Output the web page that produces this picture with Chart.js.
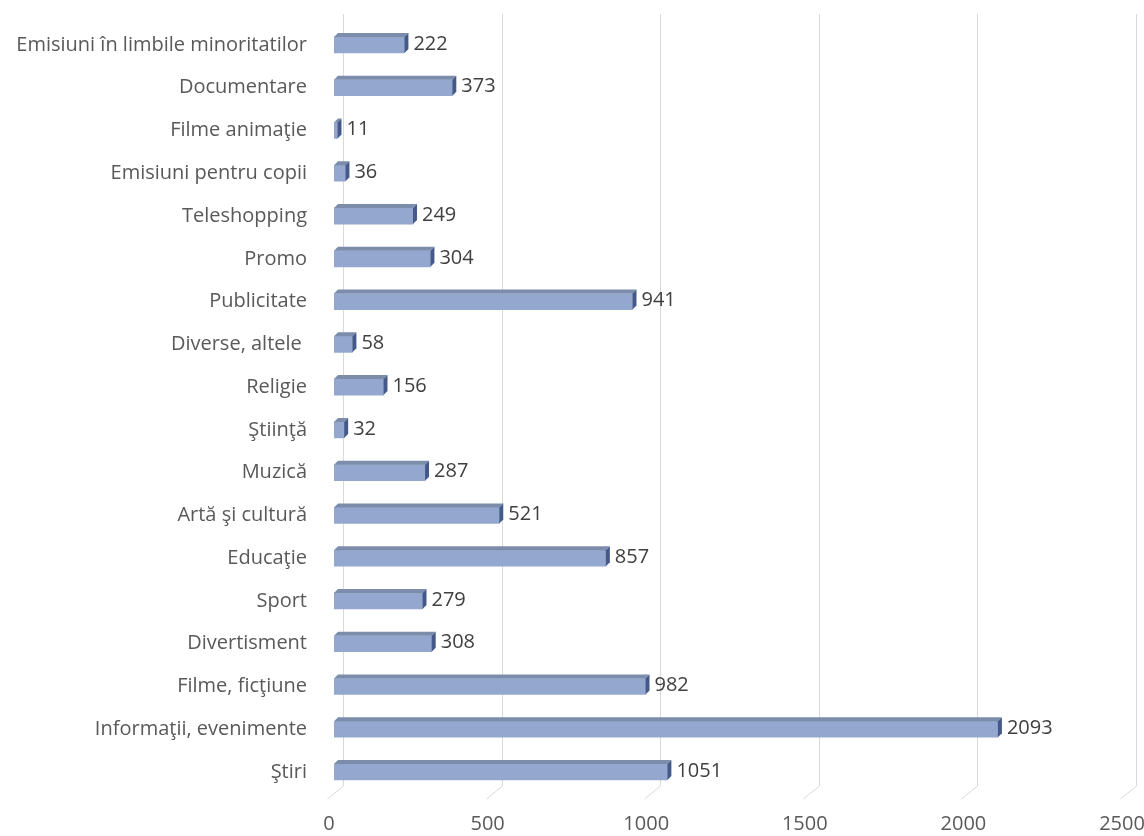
<!DOCTYPE html>
<html>
<head>
<meta charset="utf-8">
<script src="https://cdn.jsdelivr.net/npm/chart.js@4/dist/chart.umd.min.js"></script>
<style>
  html, body { margin: 0; padding: 0; background: #ffffff; }
  #wrap { width: 1144px; height: 836px; position: relative; }
</style>
</head>
<body>
<div id="wrap"><canvas id="c"></canvas></div>
<script>
const categories = [
  "Emisiuni în limbile minoritatilor",
  "Documentare",
  "Filme animaţie",
  "Emisiuni pentru copii",
  "Teleshopping",
  "Promo",
  "Publicitate",
  "Diverse, altele ",
  "Religie",
  "Ştiinţă",
  "Muzică",
  "Artă şi cultură",
  "Educaţie",
  "Sport",
  "Divertisment",
  "Filme, ficţiune",
  "Informaţii, evenimente",
  "Ştiri"
];
const values = [222, 373, 11, 36, 249, 304, 941, 58, 156, 32, 287, 521, 857, 279, 308, 982, 2093, 1051];
const xTicks = [0, 500, 1000, 1500, 2000, 2500];

const FONT = "'Open Sans', 'Noto Sans', sans-serif";
const TEXT = "#595959";
const DEPTH = 4;

const gridPlugin = {
  id: 'grid3d',
  beforeDatasetsDraw(chart) {
    const ctx = chart.ctx;
    const xs = chart.scales.x;
    ctx.save();
    ctx.strokeStyle = '#d9d9d9';
    ctx.lineWidth = 1;
    xTicks.forEach(t => {
      const px = Math.round(xs.getPixelForValue(t)) + 0.5;
      ctx.beginPath();
      ctx.moveTo(px + 9, 14);
      ctx.lineTo(px + 9, 786);
      ctx.lineTo(px - 7, 799);
      ctx.stroke();
    });
    ctx.restore();
  }
};

const bar3dPlugin = {
  id: 'bar3d',
  afterDatasetsDraw(chart) {
    const ctx = chart.ctx;
    const meta = chart.getDatasetMeta(0);
    ctx.save();
    meta.data.forEach((el, i) => {
      const p = el.getProps(['x', 'y', 'base', 'height'], true);
      const x0 = p.base, x1 = p.x;
      const top = p.y - p.height / 2, bot = p.y + p.height / 2;
      ctx.fillStyle = '#7c8cab';
      ctx.beginPath();
      ctx.moveTo(x0, top);
      ctx.lineTo(x0 + DEPTH, top - DEPTH);
      ctx.lineTo(x1 + DEPTH, top - DEPTH);
      ctx.lineTo(x1, top);
      ctx.closePath();
      ctx.fill();
      ctx.fillStyle = '#44598a';
      ctx.beginPath();
      ctx.moveTo(x1, top);
      ctx.lineTo(x1 + DEPTH, top - DEPTH);
      ctx.lineTo(x1 + DEPTH, bot - DEPTH);
      ctx.lineTo(x1, bot);
      ctx.closePath();
      ctx.fill();
      ctx.fillStyle = '#404040';
      ctx.font = "20px " + FONT;
      ctx.textAlign = 'left';
      ctx.textBaseline = 'middle';
      ctx.fillText(String(values[i]), x1 + DEPTH + 5, p.y - 1);
    });
    ctx.restore();
  }
};

new Chart(document.getElementById('c'), {
  type: 'bar',
  data: {
    labels: categories,
    datasets: [{
      data: values,
      backgroundColor: '#94a8cf',
      borderWidth: 0,
      barThickness: 16
    }]
  },
  options: {
    indexAxis: 'y',
    responsive: true,
    maintainAspectRatio: false,
    animation: false,
    layout: { padding: { top: 23.6, right: 17, bottom: 1, left: 0 } },
    plugins: { legend: { display: false }, tooltip: { enabled: false } },
    scales: {
      x: {
        min: 0, max: 2500,
        afterBuildTicks(scale) { scale.ticks = xTicks.map(v => ({ value: v })); },
        afterFit(scale) {
          scale.paddingLeft = 0; scale.paddingRight = 0;
          scale.paddingTop = 0; scale.paddingBottom = 0;
          scale.height = 41.6;
        },
        grid: { display: false, drawTicks: false },
        border: { display: false },
        ticks: {
          color: TEXT,
          font: { family: FONT, size: 20 },
          padding: 19,
          labelOffset: -5,
          maxRotation: 0,
          autoSkip: false,
          callback: (v) => String(v)
        }
      },
      y: {
        afterFit(scale) {
          scale.width = 334;
          scale.paddingTop = 0; scale.paddingBottom = 0;
          scale.paddingLeft = 0; scale.paddingRight = 0;
        },
        grid: { display: false, drawTicks: false },
        border: { display: false },
        ticks: {
          color: TEXT,
          font: { family: FONT, size: 20 },
          padding: 27,
          autoSkip: false
        }
      }
    }
  },
  plugins: [gridPlugin, bar3dPlugin]
});
</script>
</body>
</html>
